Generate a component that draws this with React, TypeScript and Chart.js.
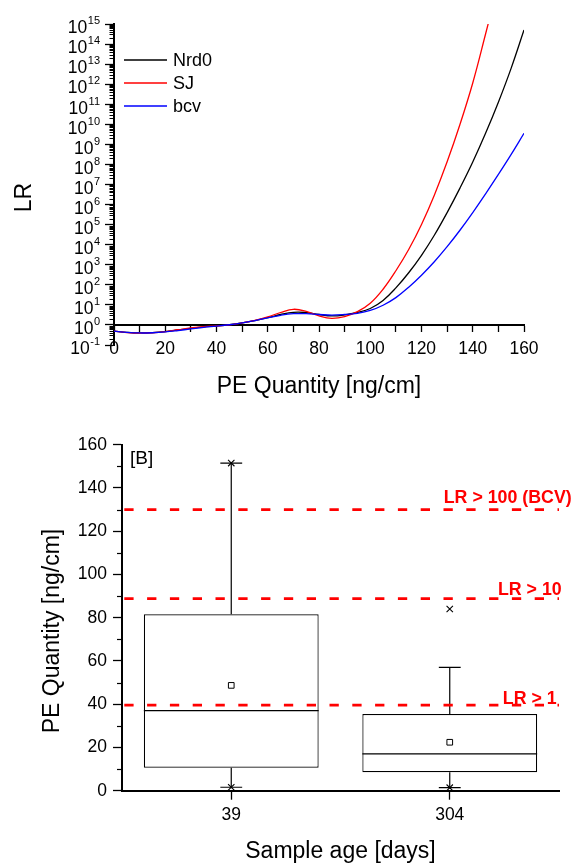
import React, { useEffect, useRef } from 'react';
import { Chart, registerables } from 'chart.js';

Chart.register(...registerables);

const FONT = "'Liberation Sans', Arial, Helvetica, sans-serif";

// ---------- Panel A: LR vs PE quantity ----------
const peQuantity = [0, 5, 10, 15, 20, 25, 30, 35, 40, 45, 50, 55, 60, 65, 70, 75, 80, 85, 90, 95, 100, 105, 110, 115, 120, 125, 130, 135, 140, 145, 150, 155, 160];
const lrNrd0 = [0.490, 0.427, 0.398, 0.417, 0.468, 0.562, 0.676, 0.794, 0.891, 1.023, 1.259, 1.660, 2.291, 3.311, 4.266, 4.169, 3.311, 2.818, 3.162, 4.169, 6.607, 16.6, 69.98, 398.1, 2951, 29512, 3.981e5, 6.607e6, 1.318e8, 3.548e9, 1.259e11, 6.31e12, 5.012e14];
const lrSJ = [0.490, 0.417, 0.389, 0.407, 0.468, 0.575, 0.708, 0.832, 0.891, 1.0, 1.259, 1.698, 2.512, 4.169, 6.026, 4.786, 2.818, 2.138, 2.630, 4.571, 12.02, 60.26, 501.2, 5754, 1.023e5, 2.951e6, 1.349e8, 9.772e9, 1.148e12, 3.162e14, 1e17];
const lrBcv = [0.490, 0.427, 0.398, 0.407, 0.447, 0.525, 0.631, 0.759, 0.871, 1.023, 1.259, 1.660, 2.239, 3.020, 3.631, 3.631, 3.311, 3.090, 3.311, 3.802, 5.248, 9.55, 22.91, 75.86, 302, 1413, 7943, 52481, 3.981e5, 3.388e6, 3.162e7, 3.162e8, 3.548e9];
const seriesNames = ['Nrd0', 'SJ', 'bcv'];
const seriesColors = ['#000000', '#ff0000', '#0000ff'];
const lrTickExponents = [-1, 0, 1, 2, 3, 4, 5, 6, 7, 8, 9, 10, 11, 12, 13, 14, 15];
const xTickLabels = [0, 20, 40, 60, 80, 100, 120, 140, 160];

// ---------- Panel B: box plot ----------
const ageLabels = ['39', '304'];
const boxQ1 = [10.6, 8.5];
const boxQ3 = [81.6, 35.5];
const boxMedian = [37.0, 17.0];
const boxMean = [48.7, 22.4];
const whiskerLow = [1.6, 1.4];
const whiskerHigh = [151.5, 57.0];
const extremeHigh = [151.5, 84.0];
const extremeLow = [1.6, 1.4];
const thresholds = [39.6, 88.8, 130.0];
const thresholdLabels = ['LR > 1', 'LR > 10', 'LR > 100 (BCV)'];
const thresholdLabelOffsets = [{ dx: -2.3, dy: -1.5 }, { dx: 2.7, dy: -3.7 }, { dx: 12.7, dy: -6.6 }];

const toXY = (ys: number[]) => ys.map((v, i) => ({ x: peQuantity[i], y: v }));

const panelAPlugin = {
  id: 'panelA',
  afterDraw(chart: any) {
    const { ctx, chartArea, scales } = chart;
    const y = scales.y;
    const axisX = chartArea.left;
    ctx.save();
    // minor log ticks
    ctx.strokeStyle = '#000';
    ctx.lineWidth = 1;
    for (let k = lrTickExponents[0]; k < lrTickExponents[lrTickExponents.length - 1]; k++) {
      for (let m = 2; m <= 9; m++) {
        const py = Math.round(y.getPixelForValue(m * Math.pow(10, k))) + 0.5;
        ctx.beginPath();
        ctx.moveTo(axisX - 4.5, py);
        ctx.lineTo(axisX, py);
        ctx.stroke();
      }
    }
    // tick labels 10^n
    ctx.fillStyle = '#000';
    ctx.textAlign = 'right';
    ctx.textBaseline = 'alphabetic';
    for (const e of lrTickExponents) {
      const py = y.getPixelForValue(Math.pow(10, e));
      const expStr = String(e);
      ctx.font = `11px ${FONT}`;
      const w = ctx.measureText(expStr).width;
      ctx.fillText(expStr, axisX - 14, py + 0.3);
      ctx.font = `17.5px ${FONT}`;
      ctx.fillText('10', axisX - 14 - w - 0.5, py + 9.3);
    }
    // axis titles
    ctx.font = `23px ${FONT}`;
    ctx.textAlign = 'center';
    ctx.fillText('PE Quantity [ng/cm]', (chartArea.left + chartArea.right) / 2, 393);
    ctx.save();
    ctx.translate(31, 197.5);
    ctx.rotate(-Math.PI / 2);
    ctx.fillText('LR', 0, 0);
    ctx.restore();
    // legend
    chart.data.datasets.forEach((ds: any, i: number) => {
      const ly = chartArea.top + 36 + i * 23;
      ctx.strokeStyle = ds.borderColor;
      ctx.lineWidth = 1.3;
      ctx.beginPath();
      ctx.moveTo(chartArea.left + 10, ly);
      ctx.lineTo(chartArea.left + 53, ly);
      ctx.stroke();
      ctx.font = `18px ${FONT}`;
      ctx.textAlign = 'left';
      ctx.fillStyle = '#000';
      ctx.fillText(ds.label, chartArea.left + 59, ly + 6.3);
    });
    ctx.restore();
  },
};

const panelBPlugin = {
  id: 'panelB',
  afterDatasetsDraw(chart: any) {
    const { ctx, chartArea, scales } = chart;
    const y = scales.y;
    const meta = chart.getDatasetMeta(0);
    ctx.save();
    ctx.strokeStyle = '#000';
    ctx.lineWidth = 1.2;
    meta.data.forEach((bar: any, i: number) => {
      const cx = bar.x;
      const half = bar.width / 2;
      const cap = bar.width / 16;
      const pMed = y.getPixelForValue(boxMedian[i]);
      const pQ1 = y.getPixelForValue(boxQ1[i]);
      const pQ3 = y.getPixelForValue(boxQ3[i]);
      const pLo = y.getPixelForValue(whiskerLow[i]);
      const pHi = y.getPixelForValue(whiskerHigh[i]);
      ctx.beginPath();
      ctx.moveTo(cx - half, pMed);
      ctx.lineTo(cx + half, pMed);
      ctx.moveTo(cx, pQ3);
      ctx.lineTo(cx, pHi);
      ctx.moveTo(cx - cap, pHi);
      ctx.lineTo(cx + cap, pHi);
      ctx.moveTo(cx, pQ1);
      ctx.lineTo(cx, pLo);
      ctx.moveTo(cx - cap, pLo);
      ctx.lineTo(cx + cap, pLo);
      ctx.stroke();
    });
    // threshold dashed lines
    ctx.strokeStyle = '#ff0000';
    ctx.lineWidth = 2.8;
    ctx.setLineDash([9.3, 13.5]);
    thresholds.forEach((v) => {
      const py = y.getPixelForValue(v);
      ctx.beginPath();
      ctx.moveTo(chartArea.left + 2.3, py);
      ctx.lineTo(chartArea.right, py);
      ctx.stroke();
    });
    ctx.setLineDash([]);
    ctx.font = `bold 17.8px ${FONT}`;
    ctx.fillStyle = '#ff0000';
    ctx.textAlign = 'right';
    ctx.textBaseline = 'alphabetic';
    thresholds.forEach((v, i) => {
      const py = y.getPixelForValue(v);
      const o = thresholdLabelOffsets[i];
      ctx.fillText(thresholdLabels[i], chartArea.right + o.dx, py + o.dy);
    });
    ctx.restore();
  },
  afterDraw(chart: any) {
    const { ctx, chartArea, scales } = chart;
    const y = scales.y;
    ctx.save();
    ctx.strokeStyle = '#000';
    ctx.lineWidth = 1.2;
    for (let v = 10; v < 160; v += 20) {
      const py = Math.round(y.getPixelForValue(v)) + 0.5;
      ctx.beginPath();
      ctx.moveTo(chartArea.left - 5, py);
      ctx.lineTo(chartArea.left, py);
      ctx.stroke();
    }
    ctx.fillStyle = '#000';
    ctx.font = `19px ${FONT}`;
    ctx.textAlign = 'left';
    ctx.textBaseline = 'alphabetic';
    ctx.fillText('[B]', chartArea.left + 8, 54.3);
    ctx.font = `23px ${FONT}`;
    ctx.textAlign = 'center';
    ctx.fillText('Sample age [days]', (chartArea.left + chartArea.right) / 2, 448);
    ctx.save();
    ctx.translate(58.6, 221);
    ctx.rotate(-Math.PI / 2);
    ctx.fillText('PE Quantity [ng/cm]', 0, 0);
    ctx.restore();
    ctx.restore();
  },
};

export default function App() {
  const topRef = useRef<HTMLCanvasElement>(null);
  const botRef = useRef<HTMLCanvasElement>(null);

  useEffect(() => {
    const seriesData = [lrNrd0, lrSJ, lrBcv];
    const top = new Chart(topRef.current as HTMLCanvasElement, {
      type: 'line',
      data: {
        datasets: seriesData.map((d, i) => ({
          label: seriesNames[i],
          data: toXY(d),
          borderColor: seriesColors[i],
          backgroundColor: seriesColors[i],
          borderWidth: 1.3,
          pointRadius: 0,
          fill: false,
          tension: 0.4,
          order: 3 - i,
        })),
      },
      options: {
        animation: false,
        responsive: false,
        devicePixelRatio: 1,
        layout: { padding: { top: 24, right: 50, bottom: 65, left: 0 } },
        plugins: { legend: { display: false }, tooltip: { enabled: false } },
        scales: {
          x: {
            type: 'linear',
            min: 0,
            max: 160,
            position: { y: 1 } as any,
            ticks: {
              stepSize: 10,
              autoSkip: false,
              maxRotation: 0,
              padding: 7.5,
              color: '#000',
              font: { family: FONT, size: 17.5 },
              callback: (v: any) => (xTickLabels.includes(Number(v)) ? String(v) : ''),
            },
            grid: { drawOnChartArea: false, tickLength: 6, tickWidth: 1.3, color: '#000' },
            border: { color: '#000', width: 2 },
          },
          y: {
            type: 'logarithmic',
            min: 0.1,
            max: 1e15,
            afterBuildTicks: (s: any) => {
              s.ticks = lrTickExponents.map((e) => ({ value: Math.pow(10, e) }));
            },
            afterFit: (s: any) => {
              s.width = 114;
            },
            ticks: { autoSkip: false, callback: () => '' },
            grid: { drawOnChartArea: false, tickLength: 9, tickWidth: 1.3, color: '#000' },
            border: { color: '#000', width: 2 },
          },
        },
      } as any,
      plugins: [panelAPlugin],
    });

    const bottom = new Chart(botRef.current as HTMLCanvasElement, {
      type: 'bar',
      data: {
        labels: ageLabels,
        datasets: [
          {
            type: 'bar',
            label: 'box',
            data: boxQ1.map((q, i) => [q, boxQ3[i]]),
            backgroundColor: '#ffffff',
            borderColor: '#000',
            borderWidth: 1.2,
            borderSkipped: false,
            barPercentage: 0.8,
            categoryPercentage: 1.0,
            order: 3,
          },
          {
            type: 'line',
            label: 'mean',
            data: boxMean,
            showLine: false,
            pointStyle: 'rect',
            pointRadius: 4,
            pointBackgroundColor: '#fff',
            pointBorderColor: '#000',
            pointBorderWidth: 1,
            order: 1,
          },
          {
            type: 'line',
            label: 'max',
            data: extremeHigh,
            showLine: false,
            pointStyle: 'crossRot',
            pointRadius: 4.5,
            pointBorderColor: '#000',
            pointBorderWidth: 1.1,
            order: 1,
          },
          {
            type: 'line',
            label: 'min',
            data: extremeLow,
            showLine: false,
            pointStyle: 'crossRot',
            pointRadius: 4.5,
            pointBorderColor: '#000',
            pointBorderWidth: 1.1,
            order: 1,
          },
        ],
      },
      options: {
        animation: false,
        responsive: false,
        devicePixelRatio: 1,
        layout: { padding: { top: 34.7, right: 15, bottom: 0, left: 0 } },
        plugins: { legend: { display: false }, tooltip: { enabled: false } },
        scales: {
          x: {
            type: 'category',
            offset: true,
            afterFit: (s: any) => {
              s.height = 72.3;
            },
            ticks: { padding: 4.8, color: '#000', font: { family: FONT, size: 17.5 } },
            grid: { offset: false, drawOnChartArea: false, tickLength: 9, tickWidth: 1.3, color: '#000' },
            border: { color: '#000', width: 2 },
          },
          y: {
            type: 'linear',
            min: 0,
            max: 160,
            afterFit: (s: any) => {
              s.width = 122;
            },
            ticks: { stepSize: 20, padding: 6, color: '#000', font: { family: FONT, size: 17.5 } },
            grid: { drawOnChartArea: false, tickLength: 9, tickWidth: 1.3, color: '#000' },
            border: { color: '#000', width: 2 },
          },
        },
      } as any,
      plugins: [panelBPlugin],
    });

    return () => {
      top.destroy();
      bottom.destroy();
    };
  }, []);

  return (
    <div style={{ position: 'absolute', left: 0, top: 0, width: 574, height: 863, background: '#fff' }}>
      <canvas ref={topRef} width={574} height={410} style={{ position: 'absolute', left: 0, top: 0, display: 'block' }} />
      <canvas ref={botRef} width={574} height={453} style={{ position: 'absolute', left: 0, top: 410, display: 'block' }} />
    </div>
  );
}
